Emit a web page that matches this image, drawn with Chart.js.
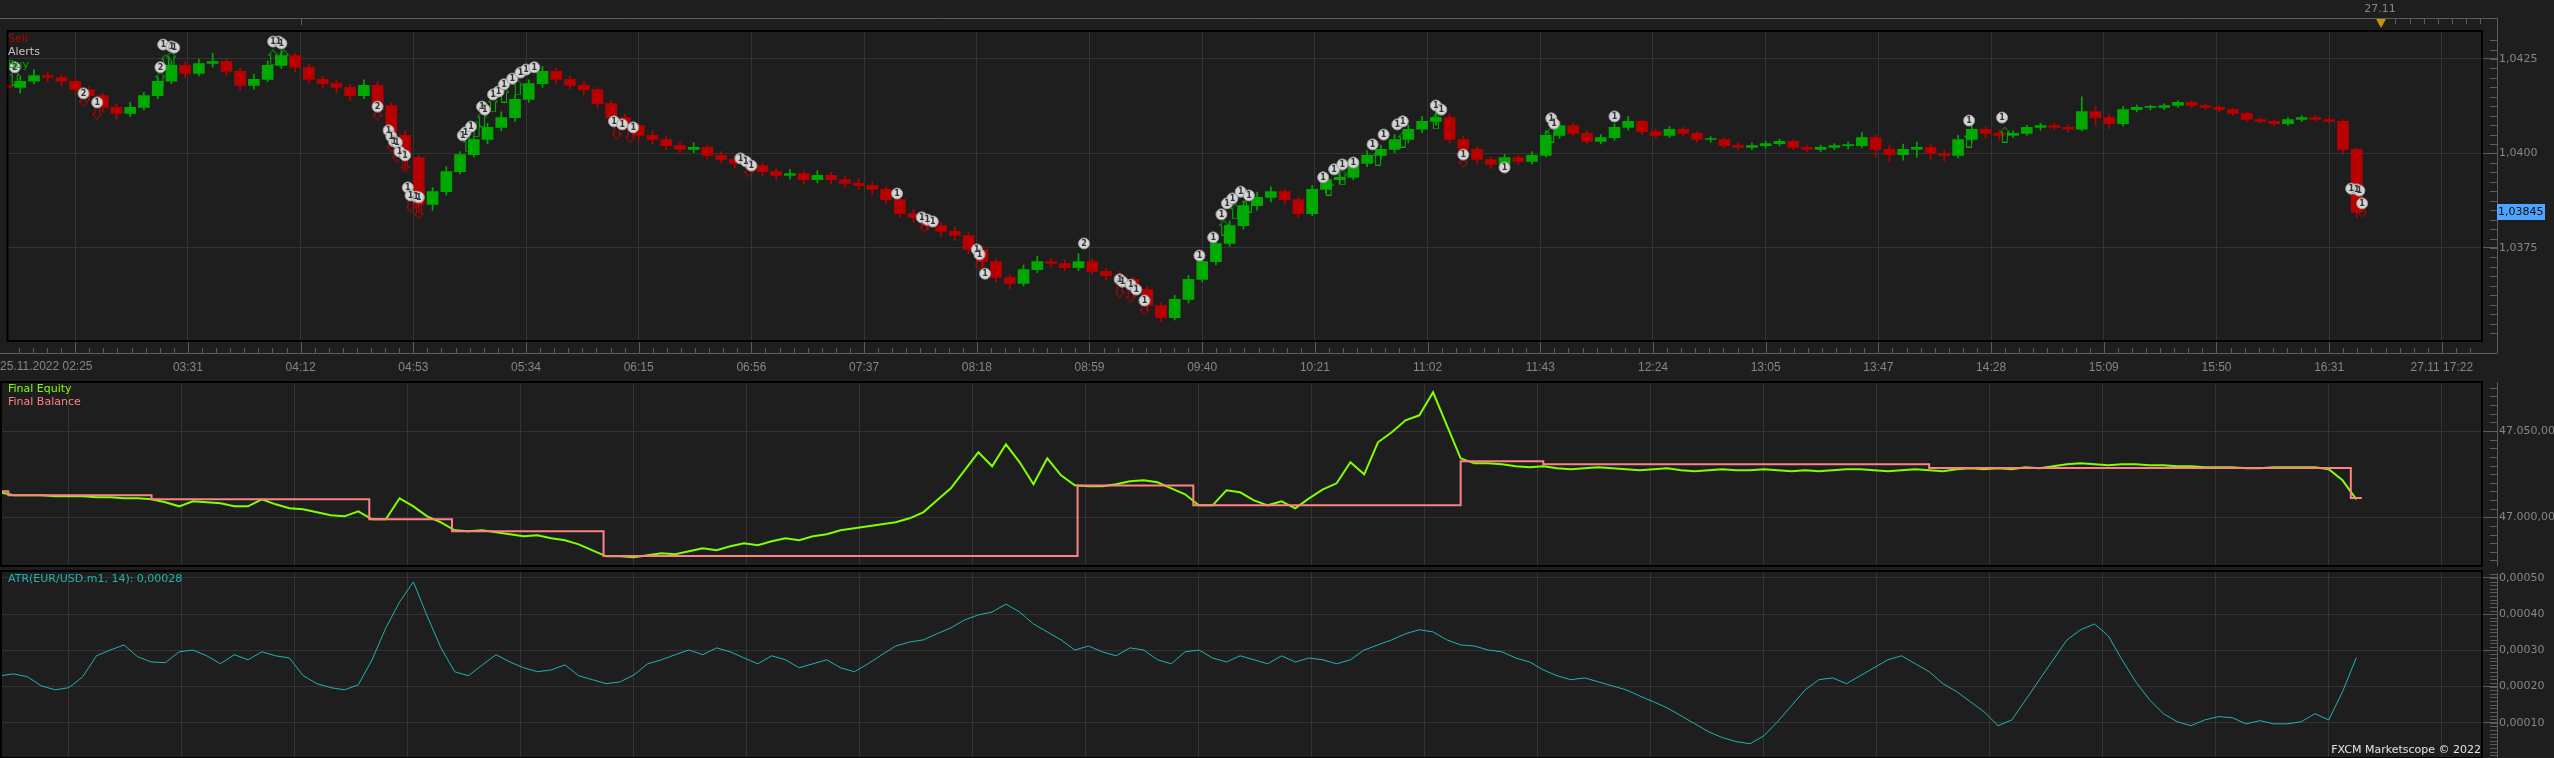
<!DOCTYPE html>
<html>
<head>
<meta charset="UTF-8">
<title>EUR/USD m1 - Marketscope</title>
<script src="https://cdn.jsdelivr.net/npm/chart.js@4.4.1/dist/chart.umd.min.js"></script>
<style>
  html, body { margin: 0; padding: 0; background: #1e1e1e; }
  body { position: relative; width: 2554px; height: 758px; overflow: hidden; }
  canvas { position: absolute; left: 0; display: block; }
  #priceChart { top: 0; }
  #equityChart { top: 370px; }
  #atrChart { top: 559px; }
</style>
</head>
<body>
<canvas id="priceChart" width="2554" height="380"></canvas>
<canvas id="equityChart" width="2554" height="208"></canvas>
<canvas id="atrChart" width="2554" height="211"></canvas>
<script>
// EUR/USD m1, 25.11.2022 -- one sample every 5 one-minute bars
const barsPerCandle = 5;
const lastBar = 900.6;            // bars visible up to the right edge of the plot

const timeLabels = ['25.11.2022 02:25', '03:31', '04:12', '04:53', '05:34', '06:15', '06:56', '07:37',
  '08:18', '08:59', '09:40', '10:21', '11:02', '11:43', '12:24', '13:05', '13:47', '14:28',
  '15:09', '15:50', '16:31', '27.11 17:22'];
const gridBars = [25, 66, 107, 148, 189, 230, 271, 312, 353, 394, 435, 476, 517, 558, 599, 640,
  681, 722, 763, 804, 845, 886];
const dayBreakBar = 864;
const dayBreakLabel = '27.11';

const priceTicks = [1.0375, 1.0400, 1.0425];
const priceTickLabels = ['1,0375', '1,0400', '1,0425'];
const equityTicks = [47000, 47050];
const equityTickLabels = ['47.000,00', '47.050,00'];
const atrTicks = [0.0001, 0.0002, 0.0003, 0.0004, 0.0005];
const atrTickLabels = ['0,00010', '0,00020', '0,00030', '0,00040', '0,00050'];

const firstOpen = 1.04180;
const closes = [
  1.04175,1.04191,1.04206,1.04201,1.04191,1.04169,1.04153,1.04122,1.04106,1.04122,
  1.04153,1.04191,1.04233,1.04212,1.04238,1.04243,1.04217,1.04180,1.04196,1.04233,
  1.04259,1.04228,1.04196,1.04185,1.04175,1.04153,1.04180,1.04127,1.04048,1.03989,
  1.03865,1.03899,1.03952,1.03997,1.04037,1.04069,1.04095,1.04143,1.04185,1.04217,
  1.04196,1.04180,1.04169,1.04132,1.04095,1.04074,1.04048,1.04037,1.04021,1.04011,
  1.04016,1.03995,1.03984,1.03974,1.03968,1.03952,1.03942,1.03947,1.03931,1.03942,
  1.03931,1.03921,1.03915,1.03905,1.03878,1.03841,1.03831,1.03809,1.03794,1.03783,
  1.03746,1.03714,1.03672,1.03656,1.03693,1.03714,1.03709,1.03698,1.03714,1.03688,
  1.03677,1.03667,1.03640,1.03598,1.03566,1.03614,1.03667,1.03714,1.03762,1.03809,
  1.03862,1.03884,1.03899,1.03878,1.03841,1.03905,1.03931,1.03937,1.03974,1.03995,
  1.04011,1.04037,1.04064,1.04085,1.04095,1.04037,1.04011,1.03984,1.03971,1.03989,
  1.03979,1.03995,1.04048,1.04074,1.04053,1.04032,1.04042,1.04069,1.04085,1.04058,
  1.04048,1.04064,1.04053,1.04037,1.04037,1.04021,1.04016,1.04021,1.04026,1.04032,
  1.04016,1.04011,1.04016,1.04021,1.04021,1.04042,1.04011,1.03997,1.04011,1.04016,
  1.04000,1.03995,1.04037,1.04064,1.04053,1.04048,1.04053,1.04069,1.04074,1.04069,
  1.04064,1.04111,1.04095,1.04079,1.04116,1.04122,1.04122,1.04127,1.04135,1.04127,
  1.04122,1.04116,1.04106,1.04090,1.04085,1.04079,1.04090,1.04095,1.04090,1.04085,
  1.04011,1.03845];
const highs = [
  1.04200,1.04205,1.04222,1.04215,1.04210,1.04198,1.04175,1.04160,1.04130,1.04135,
  1.04162,1.04200,1.04245,1.04242,1.04250,1.04265,1.04250,1.04225,1.04210,1.04245,
  1.04272,1.04265,1.04235,1.04205,1.04195,1.04182,1.04195,1.04190,1.04135,1.04060,
  1.03995,1.03910,1.03965,1.04005,1.04045,1.04080,1.04110,1.04155,1.04195,1.04230,
  1.04225,1.04205,1.04190,1.04175,1.04140,1.04105,1.04080,1.04060,1.04045,1.04030,
  1.04028,1.04022,1.04005,1.03995,1.03985,1.03975,1.03960,1.03958,1.03955,1.03955,
  1.03950,1.03940,1.03932,1.03925,1.03912,1.03885,1.03852,1.03840,1.03818,1.03805,
  1.03790,1.03755,1.03720,1.03680,1.03705,1.03728,1.03722,1.03718,1.03735,1.03720,
  1.03695,1.03688,1.03672,1.03648,1.03605,1.03625,1.03678,1.03725,1.03775,1.03822,
  1.03875,1.03898,1.03912,1.03905,1.03885,1.03915,1.03945,1.03950,1.03985,1.04008,
  1.04022,1.04050,1.04075,1.04098,1.04120,1.04105,1.04045,1.04018,1.03992,1.03998,
  1.03995,1.04005,1.04060,1.04085,1.04080,1.04060,1.04050,1.04078,1.04098,1.04090,
  1.04065,1.04072,1.04070,1.04058,1.04045,1.04042,1.04028,1.04028,1.04032,1.04038,
  1.04036,1.04022,1.04022,1.04026,1.04030,1.04055,1.04048,1.04022,1.04025,1.04030,
  1.04025,1.04010,1.04048,1.04075,1.04070,1.04062,1.04060,1.04075,1.04080,1.04080,
  1.04075,1.04150,1.04125,1.04105,1.04125,1.04128,1.04128,1.04132,1.04140,1.04140,
  1.04132,1.04126,1.04120,1.04110,1.04095,1.04090,1.04095,1.04100,1.04100,1.04095,
  1.04090,1.04015];
const lows = [
  1.04150,1.04160,1.04185,1.04190,1.04180,1.04158,1.04140,1.04110,1.04090,1.04098,
  1.04115,1.04145,1.04185,1.04200,1.04205,1.04228,1.04205,1.04168,1.04170,1.04190,
  1.04225,1.04215,1.04185,1.04172,1.04160,1.04140,1.04145,1.04110,1.04030,1.03960,
  1.03845,1.03850,1.03890,1.03945,1.03990,1.04025,1.04060,1.04085,1.04135,1.04175,
  1.04185,1.04170,1.04155,1.04120,1.04085,1.04062,1.04035,1.04025,1.04010,1.04000,
  1.04002,1.03985,1.03975,1.03962,1.03958,1.03940,1.03930,1.03932,1.03920,1.03922,
  1.03920,1.03910,1.03905,1.03892,1.03865,1.03830,1.03818,1.03798,1.03780,1.03770,
  1.03735,1.03700,1.03660,1.03642,1.03650,1.03685,1.03700,1.03690,1.03690,1.03680,
  1.03665,1.03655,1.03630,1.03585,1.03555,1.03560,1.03605,1.03660,1.03705,1.03755,
  1.03800,1.03850,1.03872,1.03865,1.03830,1.03835,1.03895,1.03920,1.03930,1.03965,
  1.03985,1.04002,1.04028,1.04055,1.04075,1.04028,1.04000,1.03972,1.03960,1.03965,
  1.03970,1.03972,1.03990,1.04040,1.04045,1.04025,1.04025,1.04035,1.04062,1.04050,
  1.04040,1.04042,1.04045,1.04030,1.04030,1.04015,1.04010,1.04010,1.04015,1.04020,
  1.04010,1.04005,1.04005,1.04010,1.04012,1.04015,1.03990,1.03978,1.03982,1.03990,
  1.03985,1.03980,1.03988,1.04030,1.04040,1.04035,1.04042,1.04048,1.04062,1.04062,
  1.04058,1.04060,1.04075,1.04065,1.04072,1.04110,1.04115,1.04116,1.04122,1.04120,
  1.04116,1.04110,1.04100,1.04085,1.04080,1.04074,1.04075,1.04085,1.04085,1.04080,
  1.04000,1.03830];

const equity = [
  47014.49,47012.75,47012.75,47012.75,47012.17,47012.17,47012.17,47011.59,47011.59,47011.01,
  47011.01,47010.43,47008.69,47006.37,47009.27,47008.69,47008.11,47006.37,47006.37,47010.43,
  47007.53,47005.21,47004.64,47002.90,47001.16,47000.58,47003.48,46998.84,46998.84,47011.01,
  47006.37,47000.58,46997.10,46992.47,46991.89,46992.47,46991.31,46990.15,46988.99,46989.57,
  46987.83,46986.67,46984.36,46980.88,46977.40,46977.40,46976.82,46977.98,46979.14,46978.56,
  46980.30,46982.04,46980.88,46983.20,46984.94,46983.78,46986.09,46987.83,46986.67,46988.99,
  46990.15,46992.47,46993.63,46994.79,46995.94,46997.10,46999.42,47002.90,47009.85,47016.80,
  47027.23,47037.66,47029.55,47042.30,47031.87,47019.12,47034.18,47024.33,47018.54,47017.96,
  47017.96,47019.12,47020.86,47021.44,47020.28,47016.80,47013.33,47006.95,47006.95,47015.64,
  47014.49,47009.85,47006.95,47009.27,47005.21,47011.01,47016.22,47019.70,47031.87,47024.91,
  47043.46,47049.25,47056.20,47059.10,47072.43,47053.30,47034.18,47031.29,47031.29,47030.71,
  47029.55,47028.97,47029.55,47028.39,47027.81,47028.39,47028.97,47028.39,47027.81,47027.23,
  47027.81,47028.39,47027.23,47026.65,47027.23,47027.81,47027.23,47027.23,47027.81,47027.23,
  47026.65,47027.23,47026.65,47027.23,47027.81,47027.81,47027.23,47026.65,47027.23,47027.81,
  47027.23,47026.65,47027.81,47028.39,47027.81,47028.39,47027.81,47028.97,47028.39,47029.55,
  47030.71,47031.29,47030.71,47030.13,47030.71,47030.71,47030.13,47030.13,47029.55,47029.55,
  47028.97,47028.97,47028.97,47028.39,47028.39,47028.97,47028.97,47028.97,47028.97,47027.81,
  47021.44,47010.43];
const balanceBars = [0, 3, 55, 134, 164, 219, 391, 433, 530, 560, 700, 853, 857];
const balance = [47015.06, 47012.75, 47010.43, 46998.84, 46991.89, 46977.58, 47018.37,
  47006.95, 47032.45, 47030.71, 47028.56, 47011.18, 47011.18];

const atr = [
  0.000230,0.000235,0.000227,0.000202,0.000191,0.000197,0.000227,0.000285,0.000301,0.000315,
  0.000282,0.000268,0.000266,0.000296,0.000301,0.000285,0.000263,0.000288,0.000274,0.000296,
  0.000285,0.000279,0.000230,0.000208,0.000197,0.000191,0.000205,0.000274,0.000362,0.000434,
  0.000489,0.000395,0.000307,0.000241,0.000230,0.000260,0.000288,0.000268,0.000252,0.000241,
  0.000246,0.000260,0.000230,0.000219,0.000208,0.000213,0.000232,0.000263,0.000274,0.000288,
  0.000301,0.000288,0.000307,0.000296,0.000279,0.000263,0.000285,0.000274,0.000252,0.000263,
  0.000274,0.000252,0.000241,0.000263,0.000288,0.000312,0.000323,0.000329,0.000346,0.000362,
  0.000384,0.000398,0.000406,0.000428,0.000406,0.000373,0.000351,0.000329,0.000301,0.000312,
  0.000296,0.000285,0.000307,0.000301,0.000274,0.000263,0.000296,0.000301,0.000279,0.000268,
  0.000285,0.000274,0.000263,0.000285,0.000268,0.000279,0.000274,0.000263,0.000274,0.000301,
  0.000315,0.000329,0.000346,0.000357,0.000351,0.000329,0.000315,0.000312,0.000301,0.000296,
  0.000279,0.000268,0.000246,0.000230,0.000219,0.000224,0.000213,0.000202,0.000191,0.000174,
  0.000158,0.000141,0.000119,0.000097,0.000075,0.000059,0.000048,0.000042,0.000064,0.000103,
  0.000147,0.000191,0.000219,0.000224,0.000208,0.000230,0.000252,0.000274,0.000285,0.000263,
  0.000241,0.000208,0.000186,0.000158,0.000130,0.000092,0.000108,0.000163,0.000219,0.000274,
  0.000329,0.000357,0.000373,0.000340,0.000274,0.000213,0.000163,0.000125,0.000103,0.000092,
  0.000108,0.000117,0.000114,0.000097,0.000106,0.000097,0.000097,0.000103,0.000125,0.000108,
  0.000186,0.000280];

// trade alerts (numbered bubbles), buy and sell signals
const alertBars = [3,28,33,56,57,60,61,97,99,100, 135,139,140,141,142,143,145,146,147,149,
  150,166,167,169,173,174,177,179,181,184, 187,189,192,221,224,228,267,269,271,324,
  333,335,337,353,354,356,392,405,406,409, 411,414,434,439,442,444,446,449,452,479,
  483,486,490,497,501,506,508,520,522,530, 545,562,563,585,714,726,853,855,856,857];
const alertPrices = [1.04228,1.04159,1.04135,1.04228,1.04288,1.04283,1.04280,1.04296,1.04296,1.04291,
  1.04124,1.04061,1.04045,1.04032,1.04029,1.04005,1.03995,1.03910,1.03889,1.03886,
  1.03884,1.04048,1.04056,1.04071,1.04124,1.04116,1.04156,1.04164,1.04183,1.04198,
  1.04214,1.04222,1.04228,1.04085,1.04077,1.04069,1.03987,1.03979,1.03968,1.03894,
  1.03831,1.03825,1.03820,1.03746,1.03733,1.03682,1.03762,1.03667,1.03661,1.03653,
  1.03640,1.03611,1.03730,1.03778,1.03839,1.03868,1.03881,1.03899,1.03889,1.03937,
  1.03958,1.03971,1.03976,1.04024,1.04050,1.04077,1.04085,1.04127,1.04116,1.03997,
  1.03963,1.04093,1.04079,1.04098,1.04087,1.04095,1.03907,1.03905,1.03902,1.03868];
const alertNums = '22121111112111111111111111111111111111111111112111111111111111111111111111111111';
const buyBars = [3,56,58,60,97,101,168,171,173,177,181,186,435,440,443,447,452,481,486,499,508,520,562,714,727];
const buyPrices = [1.04201,1.04196,1.04243,1.04249,1.04254,1.04254,1.04024,1.04064,1.04090,1.04130,
  1.04156,1.04175,1.03698,1.03746,1.03804,1.03847,1.03865,1.03910,1.03937,1.03989,
  1.04037,1.04085,1.04050,1.04037,1.04050];
const sellBars = [28,33,135,140,142,145,147,150,222,227,270,334,354,405,409,414,530,855,856,857];
const sellPrices = [1.04143,1.04111,1.04108,1.04024,1.03997,1.03971,1.03865,1.03847,1.04058,1.04050,
  1.03958,1.03812,1.03714,1.03640,1.03627,1.03593,1.03984,1.03905,1.03878,1.03852];

// ---- look ----
const GRID = '#343434', AXIS = '#5c5c5c', TXT = '#868686';
const UP = '#00a800', DOWN = '#b80000';
const EQUITY = '#80ff00', BALANCE = '#ff8282', ATRC = '#20b4b4';
const LABEL_FONT = "'DejaVu Sans', sans-serif";
const TIME_FONT = "'Liberation Sans', sans-serif";

const opens = [firstOpen].concat(closes.slice(0, -1));
const candleBars = closes.map((c, i) => i * barsPerCandle);
const isUp = i => closes[i] >= opens[i];
const comma = (v, d) => v.toFixed(d).replace('.', ',');

function arrowIcon(color, up) {
  const c = document.createElement('canvas');
  c.width = 10; c.height = 16;
  const g = c.getContext('2d');
  g.strokeStyle = color; g.lineWidth = 1;
  const pts = [[5, 0.5], [9.5, 5.5], [7.5, 5.5], [7.5, 15.5], [2.5, 15.5], [2.5, 5.5], [0.5, 5.5]];
  g.beginPath();
  pts.forEach(([x, y], i) => {
    const yy = up ? y : 16 - y;
    if (i) g.lineTo(x, yy); else g.moveTo(x, yy);
  });
  g.closePath(); g.stroke();
  return c;
}
const buyIcon = arrowIcon('#00b400', true);
const sellIcon = arrowIcon('#c80000', false);

function timeScale(showLabels, height) {
  return {
    type: 'linear', min: 0, max: lastBar, offset: false,
    afterBuildTicks: s => { s.ticks = gridBars.map(v => ({ value: v })); },
    afterFit: s => { s.height = height; },
    grid: { color: GRID, drawTicks: false, offset: false },
    border: { display: false },
    ticks: {
      display: showLabels, autoSkip: false, maxRotation: 0, padding: 19, color: TXT,
      font: { family: TIME_FONT, size: 12 },
      callback: (v, i) => (i === 0 ? '' : timeLabels[i])
    }
  };
}

// value axis on the right: major ticks run from the plot edge out to the axis line
function valueScale(min, max, values, labels) {
  return {
    position: 'right', min: min, max: max,
    afterBuildTicks: s => { s.ticks = values.map(v => ({ value: v })); },
    afterFit: s => { s.width = 72; },
    grid: { color: GRID, drawTicks: true, tickLength: 15, tickColor: AXIS },
    border: { display: false },
    ticks: { padding: 2, color: TXT, font: { family: LABEL_FONT, size: 11 }, callback: (v, i) => labels[i] }
  };
}

// frame, minor ticks, legends and the small Marketscope furniture
const chrome = {
  id: 'chrome',
  afterDatasetsDraw(chart, args, o) {
    if (o.kind !== 'price') return;
    const ctx = chart.ctx;
    const meta = chart.getDatasetMeta(0);
    ctx.save();
    ctx.font = "bold 8px 'DejaVu Sans'";
    ctx.fillStyle = '#333';
    ctx.textAlign = 'center'; ctx.textBaseline = 'middle';
    meta.data.forEach((p, i) => ctx.fillText(alertNums[i], p.x, p.y + 0.5));
    ctx.restore();
  },
  afterDraw(chart, args, o) {
    const ctx = chart.ctx, a = chart.chartArea, xs = chart.scales.x, ys = chart.scales.y;
    const axisX = Math.round(a.right) + 15;
    ctx.save();
    ctx.strokeStyle = '#000'; ctx.lineWidth = 2;
    ctx.strokeRect(a.left + 1, a.top, a.right - a.left - 1, a.bottom - a.top);

    ctx.strokeStyle = AXIS; ctx.lineWidth = 1;
    ctx.beginPath();
    ctx.moveTo(axisX + 0.5, o.axisTop); ctx.lineTo(axisX + 0.5, o.axisBottom);
    const k0 = Math.ceil(ys.min / o.minorStep), k1 = Math.floor(ys.max / o.minorStep);
    for (let k = k0; k <= k1; k++) {
      const y = Math.round(ys.getPixelForValue(k * o.minorStep)) + 0.5;
      ctx.moveTo(axisX - 7, y); ctx.lineTo(axisX, y);
    }
    ctx.stroke();

    ctx.font = '11px ' + LABEL_FONT;
    ctx.textAlign = 'left'; ctx.textBaseline = 'middle';
    (o.legend || []).forEach(l => { ctx.fillStyle = l.color; ctx.fillText(l.text, 8, l.y); });

    if (o.kind === 'price') {
      const step = 41 / 8;
      ctx.strokeStyle = AXIS;
      ctx.beginPath();
      ctx.moveTo(0, 18.5); ctx.lineTo(axisX + 0.5, 18.5);
      ctx.moveTo(0, 353.5); ctx.lineTo(axisX + 0.5, 353.5);
      for (let k = -4; gridBars[0] + k * step <= xs.max; k++) {
        const x = Math.round(xs.getPixelForValue(gridBars[0] + k * step)) + 0.5;
        ctx.moveTo(x, k % 8 === 0 ? a.bottom + 1 : 348); ctx.lineTo(x, 353);
      }
      const x0 = Math.round(xs.getPixelForValue(gridBars[2])) + 0.5;
      ctx.moveTo(x0, 19); ctx.lineTo(x0, 25);
      for (let k = 1; dayBreakBar + k * step <= xs.max; k++) {
        const x = Math.round(xs.getPixelForValue(dayBreakBar + k * step)) + 0.5;
        ctx.moveTo(x, 19); ctx.lineTo(x, 24);
      }
      ctx.stroke();

      // first time label sits flush left
      ctx.fillStyle = TXT; ctx.font = '12px ' + TIME_FONT;
      ctx.fillText(timeLabels[0], 0, 367);

      // day break marker
      const xd = Math.round(xs.getPixelForValue(dayBreakBar));
      ctx.fillStyle = '#c8920c';
      ctx.beginPath(); ctx.moveTo(xd - 5, 19); ctx.lineTo(xd + 5, 19); ctx.lineTo(xd, 28); ctx.closePath(); ctx.fill();
      ctx.strokeStyle = '#000'; ctx.beginPath(); ctx.moveTo(xd + 0.5, 28); ctx.lineTo(xd + 0.5, 32); ctx.stroke();
      ctx.fillStyle = TXT; ctx.font = '11px ' + LABEL_FONT; ctx.textAlign = 'center';
      ctx.fillText(dayBreakLabel, xd - 1, 9);

      // last price tag
      const last = closes[closes.length - 1];
      const yp = Math.round(ys.getPixelForValue(last));
      ctx.fillStyle = '#4ca6ff'; ctx.fillRect(axisX, yp - 8, 48, 16);
      ctx.fillStyle = '#0a0a0a'; ctx.textAlign = 'left';
      ctx.fillText(comma(last, 5), axisX + 1, yp);
    }
    if (o.kind === 'atr') {
      ctx.fillStyle = '#e4e4e4'; ctx.textAlign = 'right';
      ctx.fillText('FXCM Marketscope \u00a9 2022', a.right - 1, 191);
    }
    ctx.restore();
  }
};

const common = {
  responsive: false, maintainAspectRatio: false, devicePixelRatio: 1, animation: false, events: []
};

new Chart(document.getElementById('priceChart'), {
  type: 'bar',
  data: {
    datasets: [
      { type: 'scatter', label: 'Alerts', data: alertBars.map((b, i) => ({ x: b, y: alertPrices[i] })),
        pointStyle: 'circle', pointRadius: 5.5, backgroundColor: '#d4d4d4', borderColor: '#9c9c9c', borderWidth: 1, order: 0 },
      { type: 'scatter', label: 'Buy', data: buyBars.map((b, i) => ({ x: b, y: buyPrices[i] })),
        pointStyle: buyIcon, order: 1 },
      { type: 'scatter', label: 'Sell', data: sellBars.map((b, i) => ({ x: b, y: sellPrices[i] })),
        pointStyle: sellIcon, order: 1 },
      { label: 'Bodies', data: closes.map((c, i) => ({ x: candleBars[i], y: [opens[i], c] })),
        backgroundColor: c => (isUp(c.dataIndex) ? UP : DOWN), borderWidth: 0,
        barThickness: 11, minBarLength: 1, grouped: false, order: 2 },
      { label: 'Wicks', data: closes.map((c, i) => ({ x: candleBars[i], y: [lows[i], highs[i]] })),
        backgroundColor: c => (isUp(c.dataIndex) ? UP : DOWN), borderWidth: 0,
        barThickness: 1, grouped: false, order: 3 }
    ]
  },
  options: Object.assign({}, common, {
    layout: { padding: { top: 31, left: 0, right: 0, bottom: 0 } },
    plugins: {
      legend: { display: false }, tooltip: { enabled: false },
      chrome: { kind: 'price', axisTop: 18, axisBottom: 353, minorStep: 0.00025,
        legend: [{ text: 'Sell', color: '#b00000', y: 39 }, { text: 'Alerts', color: '#c4c4c4', y: 52 },
                 { text: 'Buy', color: '#00a800', y: 65 }] }
    },
    scales: { x: timeScale(true, 39), y: valueScale(1.03504, 1.04324, priceTicks, priceTickLabels) }
  }),
  plugins: [chrome]
});

new Chart(document.getElementById('equityChart'), {
  type: 'line',
  data: {
    datasets: [
      { label: 'Final Balance', data: balanceBars.map((b, i) => ({ x: b, y: balance[i] })),
        borderColor: BALANCE, borderWidth: 2, stepped: true, pointRadius: 0, order: 0 },
      { label: 'Final Equity', data: equity.map((v, i) => ({ x: candleBars[i], y: v })),
        borderColor: EQUITY, borderWidth: 2, pointRadius: 0, order: 1 }
    ]
  },
  options: Object.assign({}, common, {
    layout: { padding: { top: 12, left: 0, right: 0, bottom: 0 } },
    plugins: {
      legend: { display: false }, tooltip: { enabled: false },
      chrome: { kind: 'equity', axisTop: 12, axisBottom: 196, minorStep: 5,
        legend: [{ text: 'Final Equity', color: EQUITY, y: 19 }, { text: 'Final Balance', color: BALANCE, y: 32 }] }
    },
    scales: { x: timeScale(false, 12), y: valueScale(46971.8, 47078.4, equityTicks, equityTickLabels) }
  }),
  plugins: [chrome]
});

new Chart(document.getElementById('atrChart'), {
  type: 'line',
  data: {
    datasets: [
      { label: 'ATR', data: atr.map((v, i) => ({ x: candleBars[i], y: v })),
        borderColor: ATRC, borderWidth: 1, pointRadius: 0 }
    ]
  },
  options: Object.assign({}, common, {
    layout: { padding: { top: 12, left: 0, right: 0, bottom: 0 } },
    plugins: {
      legend: { display: false }, tooltip: { enabled: false },
      chrome: { kind: 'atr', axisTop: 14, axisBottom: 211, minorStep: 0.00001,
        legend: [{ text: 'ATR(EUR/USD.m1, 14): ' + comma(atr[atr.length - 1], 5), color: ATRC, y: 20 }] }
    },
    scales: { x: timeScale(false, 12), y: valueScale(0.0000027, 0.0005193, atrTicks, atrTickLabels) }
  }),
  plugins: [chrome]
});
</script>
</body>
</html>
